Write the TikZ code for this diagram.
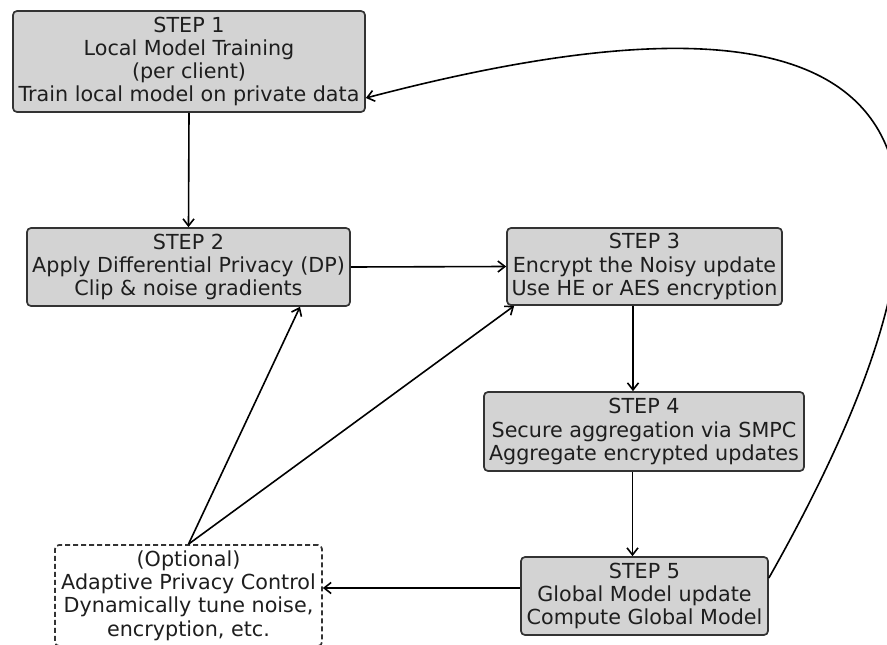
\documentclass[tikz,border=0pt]{standalone}
\usepackage{fontspec}
\setmainfont{DejaVu Sans}
\usetikzlibrary{arrows.meta,calc}
\definecolor{boxfill}{HTML}{D3D3D3}
\definecolor{boxline}{HTML}{333333}
\definecolor{ink}{HTML}{1E1E1E}
\tikzset{
  stepbox/.style={draw=boxline, line width=1.7pt, fill=boxfill, rounded corners=4pt,
    align=center, inner sep=0pt, text=ink,
    font=\fontsize{20.7}{23.3}\selectfont},
  optbox/.style={stepbox, fill=white, dash pattern=on 5pt off 3pt},
  flow/.style={draw=black, line width=1.6pt,
    -{Straight Barb[length=7pt,width=11pt,line width=1.6pt]}},
}
\begin{document}
\begin{tikzpicture}[x=1pt,y=-1pt]
\useasboundingbox (0,0) rectangle (887,645);

\node[stepbox, minimum width=352pt, minimum height=101pt] (b1) at (189,61.5)
  {STEP 1\\Local Model Training\\(per client)\\Train local model on private data};
\node[stepbox, minimum width=323pt, minimum height=78pt] (b2) at (188.5,267)
  {STEP 2\\Apply Differential Privacy (DP)\\Clip \& noise gradients};
\node[stepbox, minimum width=275pt, minimum height=77pt] (b3) at (644.5,266.5)
  {STEP 3\\Encrypt the Noisy update\\Use HE or AES encryption};
\node[stepbox, minimum width=320pt, minimum height=79pt] (b4) at (644,431.5)
  {STEP 4\\Secure aggregation via SMPC\\Aggregate encrypted updates};
\node[stepbox, minimum width=247pt, minimum height=78pt] (b5) at (644.5,596)
  {STEP 5\\Global Model update\\Compute Global Model};
\node[optbox, minimum width=267pt, minimum height=101pt] (opt) at (188.5,595.5)
  {(Optional)\\Adaptive Privacy Control\\Dynamically tune noise,\\encryption, etc.};

% main pipeline
\draw[flow] (b1.south) -- (b2.north);
\draw[flow] (b2.east) -- (b3.west);
\draw[flow] ([xshift=-11.5pt]b3.south) -- ([xshift=-11.5pt]b3.south |- b4.north);
\draw[flow] ([xshift=-11.5pt]b4.south) -- ([xshift=-11.5pt]b4.south |- b5.north);

% feedback to the adaptive controller
\draw[flow] ([yshift=8pt]b5.west) -- ([yshift=8pt]b5.west -| opt.east);
\draw[flow] (opt.north) -- ([xshift=111.5pt]b2.south);
\draw[flow] (opt.north) -- ([xshift=8pt]b3.south west);

% next round: global model back to local training
\draw[flow] ([yshift=18pt]b5.east) .. controls (1025,125) and (910,-45) .. ([yshift=-36.5pt]b1.east);
\end{tikzpicture}
\end{document}
